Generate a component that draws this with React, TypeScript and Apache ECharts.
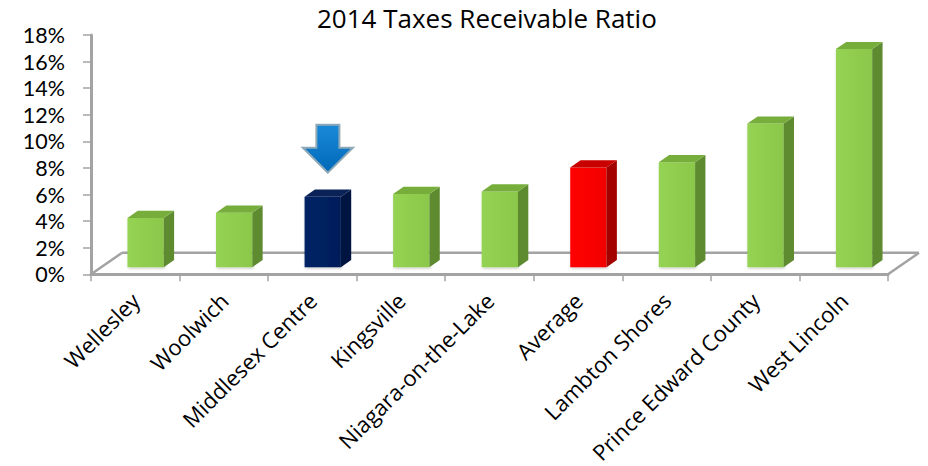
import React, { useEffect, useRef } from "react";
import * as echarts from "echarts";

const categories = [
  "Wellesley",
  "Woolwich",
  "Middlesex Centre",
  "Kingsville",
  "Niagara-on-the-Lake",
  "Average",
  "Lambton Shores",
  "Prince Edward County",
  "West Lincoln",
];
const ratios = [3.7, 4.1, 5.3, 5.5, 5.7, 7.5, 7.9, 10.8, 16.4];
const barKinds = ["town", "town", "focus", "town", "town", "average", "town", "town", "town"];
const arrowTarget = "Middlesex Centre";
const yMin = 0;
const yMax = 18;
const yStep = 2;

const palette: Record<string, { front: string; frontDark: string; side: string; top: string }> = {
  town: { front: "#95D353", frontDark: "#8BC74A", side: "#5F8B30", top: "#77AE3B" },
  focus: { front: "#002466", frontDark: "#001D58", side: "#001442", top: "#0B2258" },
  average: { front: "#FF0000", frontDark: "#F20000", side: "#A30000", top: "#C80000" },
};
const DEPTH: [number, number] = [31, -21.5];
const FONT = "'Open Sans', 'Liberation Sans', sans-serif";
const YFONT = "Lato, 'Open Sans', sans-serif";
const AXIS_GRAY = "#a3a3a3";

export default function App() {
  const ref = useRef<HTMLDivElement>(null);
  useEffect(() => {
    if (!ref.current) return;
    const chart = echarts.init(ref.current, undefined, { renderer: "svg" });
    const option: any = {
      animation: false,
      backgroundColor: "#ffffff",
      title: {
        text: "2014 Taxes Receivable Ratio",
        left: 312,
        top: 0,
        textStyle: { fontFamily: FONT, fontSize: 26, fontWeight: "normal", color: "#000" },
      },
      grid: { left: 91, right: 40, top: 35, bottom: 191, containLabel: false },
      xAxis: {
        type: "category",
        data: categories,
        boundaryGap: true,
        axisLine: { show: true, lineStyle: { color: AXIS_GRAY, width: 3 } },
        axisTick: { show: true, length: 7, alignWithLabel: false, interval: 0, lineStyle: { color: AXIS_GRAY, width: 1.5 } },
        axisLabel: {
          interval: 0,
          rotate: 45,
          margin: 22,
          fontFamily: FONT,
          fontSize: 22,
          lineHeight: 22,
          color: "#000",
        },
        splitLine: { show: false },
      },
      yAxis: {
        type: "value",
        min: yMin,
        max: yMax,
        interval: yStep,
        axisLine: { show: true, lineStyle: { color: AXIS_GRAY, width: 3 } },
        axisTick: { show: true, length: 8, lineStyle: { color: AXIS_GRAY, width: 1.5 } },
        axisLabel: {
          formatter: "{value}%",
          margin: 26,
          fontFamily: YFONT,
          fontSize: 21.5,
          lineHeight: 21,
          color: "#000",
        },
        splitLine: { show: false },
      },
      series: [
        {
          type: "custom",
          z: 1,
          silent: true,
          data: [[0, 0]],
          renderItem: (params: any, api: any) => {
            const cs = params.coordSys;
            const xl = cs.x;
            const xr = cs.x + cs.width;
            const yb = cs.y + cs.height;
            const [dx, dy] = DEPTH;
            const style = { stroke: AXIS_GRAY, lineWidth: 2.5, fill: null };
            return {
              type: "group",
              children: [
                { type: "line", shape: { x1: xl + dx, y1: yb + dy, x2: xr + dx, y2: yb + dy }, style },
                { type: "line", shape: { x1: xl, y1: yb, x2: xl + dx, y2: yb + dy }, style },
                { type: "line", shape: { x1: xr, y1: yb, x2: xr + dx, y2: yb + dy }, style },
              ],
            };
          },
        },
        {
          type: "custom",
          z: 2,
          data: categories.map((c, i) => [i, ratios[i]]),
          encode: { x: 0, y: 1 },
          renderItem: (params: any, api: any) => {
            const i = api.value(0);
            const v = api.value(1);
            const base = api.coord([i, 0]);
            const topPt = api.coord([i, v]);
            const band = api.size([1, 0])[0];
            const w = band * 0.41;
            const dx = DEPTH[0] / 3;
            const dy = DEPTH[1] / 3;
            const x0 = base[0] - w / 2 + dx;
            const x1 = x0 + w;
            const yb = base[1] + dy;
            const yt = topPt[1] + dy;
            const c = palette[barKinds[i]];
            const children: any[] = [
              {
                type: "rect",
                shape: { x: x0, y: yt, width: w, height: yb - yt },
                style: {
                  fill: new echarts.graphic.LinearGradient(0, 0, 1, 0, [
                    { offset: 0, color: c.front },
                    { offset: 1, color: c.frontDark },
                  ]),
                  shadowBlur: 3,
                  shadowColor: "rgba(0,0,0,0.25)",
                  shadowOffsetX: 1,
                  shadowOffsetY: 1,
                },
              },
              {
                type: "polygon",
                shape: { points: [[x1, yt], [x1 + dx, yt + dy], [x1 + dx, yb + dy], [x1, yb]] },
                style: { fill: c.side },
              },
              {
                type: "polygon",
                shape: { points: [[x0, yt], [x0 + dx, yt + dy], [x1 + dx, yt + dy], [x1, yt]] },
                style: { fill: c.top },
              },
            ];
            if (categories[i] === arrowTarget) {
              const ax = x0 + (w + dx) / 2;
              const tip = yt - 24;
              const hw = 25;
              const sw = 11.5;
              const hh = 25;
              const sh = 23;
              children.push({
                type: "polygon",
                shape: {
                  points: [
                    [ax, tip],
                    [ax - hw, tip - hh],
                    [ax - sw, tip - hh],
                    [ax - sw, tip - hh - sh],
                    [ax + sw, tip - hh - sh],
                    [ax + sw, tip - hh],
                    [ax + hw, tip - hh],
                  ],
                },
                style: {
                  fill: new echarts.graphic.LinearGradient(0, 0, 0, 1, [
                    { offset: 0, color: "#1a8ad8" },
                    { offset: 1, color: "#0068b8" },
                  ]),
                  stroke: "#8ea9b8",
                  lineWidth: 2,
                  lineJoin: "miter",
                },
              });
            }
            return { type: "group", children };
          },
        },
      ],
    };
    chart.setOption(option);
    return () => chart.dispose();
  }, []);
  return (
    <div
      ref={ref}
      style={{ position: "fixed", left: 0, top: 0, width: 928, height: 466, background: "#fff" }}
    />
  );
}
